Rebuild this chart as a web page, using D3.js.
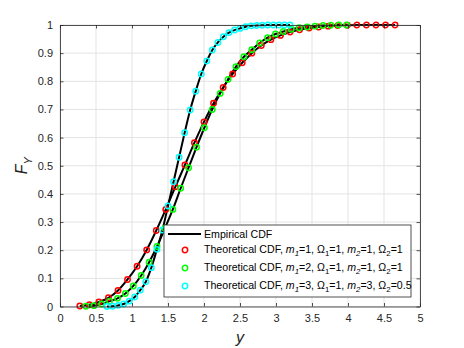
<!DOCTYPE html>
<html>
<head>
<meta charset="utf-8">
<script src="https://cdn.jsdelivr.net/npm/d3@7"></script>
<style>
  html, body { margin: 0; padding: 0; background: #fff; overflow: hidden; }
  svg { display: block; font-family: "Liberation Sans", Arial, sans-serif; }
  .tick text { font-size: 11px; fill: #262626; }
</style>
</head>
<body>
<div id="chart"></div>
<script>
// values
const xTicks = [0, 0.5, 1, 1.5, 2, 2.5, 3, 3.5, 4, 4.5, 5];
const yTicks = [0, 0.1, 0.2, 0.3, 0.4, 0.5, 0.6, 0.7, 0.8, 0.9, 1];

const redX = [0.275, 0.408, 0.540, 0.673, 0.806, 0.938, 1.071, 1.204, 1.337, 1.469,
  1.602, 1.735, 1.867, 2.000, 2.133, 2.266, 2.398, 2.531, 2.664, 2.796,
  2.929, 3.062, 3.195, 3.327, 3.460, 3.593, 3.725, 3.858, 3.991, 4.123,
  4.256, 4.389, 4.521, 4.654];
const redF = [0.002, 0.006, 0.016, 0.031, 0.057, 0.096, 0.143, 0.201, 0.270, 0.345,
  0.425, 0.503, 0.582, 0.656, 0.722, 0.778, 0.826, 0.866, 0.900, 0.927,
  0.948, 0.963, 0.975, 0.983, 0.989, 0.993, 0.996, 0.998, 0.999, 1.0,
  1.0, 1.0, 1.0, 1.0];

const greenX = [0.360, 0.470, 0.579, 0.689, 0.799, 0.908, 1.018, 1.128, 1.238, 1.347,
  1.457, 1.567, 1.676, 1.786, 1.896, 2.005, 2.115, 2.225, 2.335, 2.444,
  2.554, 2.664, 2.773, 2.883, 2.993, 3.102, 3.212, 3.322, 3.432, 3.541,
  3.651, 3.761, 3.870, 3.980];
const greenF = [0.001, 0.003, 0.009, 0.019, 0.029, 0.046, 0.073, 0.110, 0.157, 0.213,
  0.278, 0.345, 0.420, 0.493, 0.566, 0.635, 0.700, 0.757, 0.807, 0.852,
  0.887, 0.912, 0.936, 0.955, 0.968, 0.977, 0.985, 0.990, 0.993, 0.996,
  0.998, 0.999, 1.0, 1.0];

const cyanX = [0.653, 0.730, 0.807, 0.884, 0.961, 1.038, 1.115, 1.192, 1.269, 1.346,
  1.423, 1.500, 1.577, 1.654, 1.731, 1.808, 1.885, 1.962, 2.039, 2.116,
  2.193, 2.270, 2.347, 2.424, 2.501, 2.578, 2.655, 2.732, 2.809, 2.886,
  2.963, 3.040, 3.117, 3.194];
const cyanF = [0.000, 0.001, 0.004, 0.009, 0.019, 0.034, 0.058, 0.088, 0.138, 0.203,
  0.272, 0.357, 0.443, 0.530, 0.617, 0.698, 0.765, 0.826, 0.872, 0.911,
  0.938, 0.958, 0.973, 0.982, 0.988, 0.994, 0.997, 0.998, 0.999, 1.0,
  1.0, 1.0, 1.0, 1.0];

const seriesNames = [
  { m1: '1', o1: '1', m2: '1', o2: '1' },
  { m1: '2', o1: '1', m2: '1', o2: '1' },
  { m1: '3', o1: '1', m2: '3', o2: '0.5' }
];

const width = 464;
const height = 348;
const margin = { top: 25, right: 44, bottom: 41.5, left: 60 };
const innerWidth = width - margin.left - margin.right;
const innerHeight = height - margin.top - margin.bottom;

const series = [
  { xs: redX, fs: redF, color: '#ff0000' },
  { xs: greenX, fs: greenF, color: '#00ff00' },
  { xs: cyanX, fs: cyanF, color: '#00ffff' }
].map((s, i) => ({ ...s, label: seriesNames[i], points: s.xs.map((x, j) => ({ x, f: s.fs[j] })) }));

const svg = d3.select('#chart').append('svg')
  .attr('width', width)
  .attr('height', height);

const plot = svg.append('g').attr('transform', `translate(${margin.left},${margin.top})`);

const x = d3.scaleLinear().domain([0, 5]).range([0, innerWidth]);
const y = d3.scaleLinear().domain([0, 1]).range([innerHeight, 0]);

// grid
const grid = plot.append('g').attr('stroke', '#e3e3e3').attr('stroke-width', 1);
grid.selectAll('.gx').data(xTicks).join('line')
  .attr('x1', (d) => x(d)).attr('x2', (d) => x(d))
  .attr('y1', 0).attr('y2', innerHeight);
grid.selectAll('.gy').data(yTicks).join('line')
  .attr('y1', (d) => y(d)).attr('y2', (d) => y(d))
  .attr('x1', 0).attr('x2', innerWidth);

// empirical curves
const line = d3.line()
  .x((d) => x(d.x))
  .y((d) => y(d.f))
  .curve(d3.curveMonotoneX);

plot.append('g').selectAll('path').data(series).join('path')
  .attr('d', (s) => line(s.points))
  .attr('fill', 'none')
  .attr('stroke', '#000')
  .attr('stroke-width', 2);

// theoretical markers
plot.append('g').selectAll('g').data(series).join('g')
  .attr('stroke', (s) => s.color)
  .each(function (s) {
    d3.select(this).selectAll('circle').data(s.points).join('circle')
      .attr('cx', (d) => x(d.x))
      .attr('cy', (d) => y(d.f))
      .attr('r', 2.7)
      .attr('fill', 'none')
      .attr('stroke-width', 1.5);
  });

// axes, MATLAB style with inward ticks on all sides
const axisColor = '#262626';
function styleAxis(g) {
  g.select('.domain').attr('stroke', axisColor).attr('stroke-width', 0.8);
  g.selectAll('.tick line').attr('stroke', axisColor).attr('stroke-width', 0.8);
}

plot.append('g')
  .attr('transform', `translate(0,${innerHeight})`)
  .call(d3.axisBottom(x).tickValues(xTicks).tickFormat(d3.format('')).tickSizeInner(-3.5).tickSizeOuter(0).tickPadding(8))
  .call(styleAxis);

plot.append('g')
  .call(d3.axisTop(x).tickValues(xTicks).tickFormat('').tickSizeInner(-3.5).tickSizeOuter(0))
  .call(styleAxis);

plot.append('g')
  .call(d3.axisLeft(y).tickValues(yTicks).tickFormat(d3.format('')).tickSizeInner(-3.5).tickSizeOuter(0).tickPadding(7))
  .call(styleAxis);

plot.append('g')
  .attr('transform', `translate(${innerWidth},0)`)
  .call(d3.axisRight(y).tickValues(yTicks).tickFormat('').tickSizeInner(-3.5).tickSizeOuter(0))
  .call(styleAxis);

// axis labels
svg.append('text')
  .attr('x', margin.left + innerWidth / 2)
  .attr('y', 343)
  .attr('text-anchor', 'middle')
  .attr('font-size', 16)
  .attr('font-style', 'italic')
  .attr('fill', axisColor)
  .text('y');

const yLabel = svg.append('text')
  .attr('transform', `translate(27,${margin.top + innerHeight / 2}) rotate(-90)`)
  .attr('text-anchor', 'middle')
  .attr('font-size', 16)
  .attr('fill', axisColor);
yLabel.append('tspan').attr('font-style', 'italic').text('F');
yLabel.append('tspan').attr('font-style', 'italic').attr('font-size', 11).attr('dy', 5).text('Y');

// legend
const legend = svg.append('g').attr('transform', 'translate(164,225)');
legend.append('rect')
  .attr('width', 247)
  .attr('height', 72)
  .attr('fill', '#fff')
  .attr('stroke', axisColor)
  .attr('stroke-width', 0.8);

legend.append('line')
  .attr('x1', 4).attr('x2', 37)
  .attr('y1', 9).attr('y2', 9)
  .attr('stroke', '#000')
  .attr('stroke-width', 2);
legend.append('text')
  .attr('x', 40).attr('y', 12.5)
  .attr('font-size', 10.6)
  .attr('fill', '#000')
  .text('Empirical CDF');

const rows = legend.selectAll('.row').data(series).join('g')
  .attr('transform', (s, i) => `translate(0,${25 + i * 18})`);

rows.append('circle')
  .attr('cx', 21).attr('cy', 0).attr('r', 2.7)
  .attr('fill', 'none')
  .attr('stroke', (s) => s.color)
  .attr('stroke-width', 1.5);

rows.append('text')
  .attr('x', 40).attr('y', 3)
  .attr('font-size', 10.6)
  .attr('fill', '#000')
  .each(function (s) {
    const t = d3.select(this);
    const sub = (txt) => t.append('tspan').attr('font-size', 7.8).attr('dy', 3).text(txt);
    const up = (txt) => t.append('tspan').attr('dy', -3).text(txt);
    t.append('tspan').text('Theoretical CDF, ');
    t.append('tspan').attr('font-style', 'italic').text('m');
    sub('1').attr('font-style', 'italic');
    up(`=${s.label.m1}, Ω`);
    sub('1');
    up(`=${s.label.o1}, `);
    t.append('tspan').attr('font-style', 'italic').text('m');
    sub('2').attr('font-style', 'italic');
    up(`=${s.label.m2}, Ω`);
    sub('2');
    up(`=${s.label.o2}`);
  });
</script>
</body>
</html>
